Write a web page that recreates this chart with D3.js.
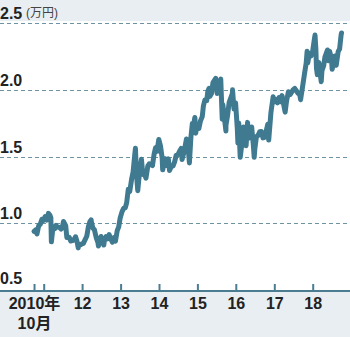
<!DOCTYPE html>
<html>
<head>
<meta charset="utf-8">
<script src="https://cdn.jsdelivr.net/npm/d3@7"></script>
<style>
  html, body { margin: 0; padding: 0; background: #ffffff; }
  svg { display: block; }
  text { font-family: "Liberation Sans Narrow", "Liberation Sans", Arial, "Noto Sans CJK JP", sans-serif; }
</style>
</head>
<body>
<svg id="chart" width="350" height="337"></svg>
<script>
// Nikkei average, 万円 (10,000 yen), Oct 2010 – Oct 2018
const dates = [
  "2010-10-01","2010-10-15","2010-10-29","2010-11-15","2010-11-30","2010-12-15","2010-12-30",
  "2011-01-14","2011-01-31","2011-02-15","2011-02-28","2011-03-10","2011-03-15","2011-03-31",
  "2011-04-15","2011-04-28","2011-05-13","2011-05-31","2011-06-15","2011-06-30","2011-07-08",
  "2011-07-29","2011-08-09","2011-08-31","2011-09-15","2011-09-30","2011-10-14","2011-10-31",
  "2011-11-15","2011-11-25","2011-11-30","2011-12-15","2011-12-30",
  "2012-01-13","2012-01-31","2012-02-15","2012-02-29","2012-03-15","2012-03-27","2012-03-30",
  "2012-04-13","2012-04-27","2012-05-15","2012-05-31","2012-06-04","2012-06-29","2012-07-13",
  "2012-07-25","2012-07-31","2012-08-15","2012-08-31","2012-09-14","2012-09-28","2012-10-15",
  "2012-10-31","2012-11-13","2012-11-30","2012-12-14","2012-12-28",
  "2013-01-15","2013-01-31","2013-02-15","2013-02-28","2013-03-15","2013-03-29","2013-04-15",
  "2013-04-30","2013-05-15","2013-05-22","2013-05-31","2013-06-13","2013-06-28","2013-07-18",
  "2013-07-31","2013-08-15","2013-08-30","2013-09-17","2013-09-30","2013-10-15","2013-10-31",
  "2013-11-15","2013-11-29","2013-12-13","2013-12-30",
  "2014-01-15","2014-01-31","2014-02-05","2014-02-28","2014-03-14","2014-03-31","2014-04-11",
  "2014-04-30","2014-05-15","2014-05-30","2014-06-13","2014-06-30","2014-07-15","2014-07-31",
  "2014-08-08","2014-08-29","2014-09-19","2014-09-30","2014-10-17","2014-10-31","2014-11-14",
  "2014-11-28","2014-12-08","2014-12-16","2014-12-30",
  "2015-01-15","2015-01-30","2015-02-16","2015-02-27","2015-03-13","2015-03-31","2015-04-10",
  "2015-04-22","2015-04-30","2015-05-15","2015-05-29","2015-06-24","2015-06-30","2015-07-08",
  "2015-07-31","2015-08-11","2015-08-25","2015-08-31","2015-09-29","2015-09-30","2015-10-15",
  "2015-10-30","2015-11-30","2015-12-01","2015-12-15","2015-12-30",
  "2016-01-15","2016-01-21","2016-01-29","2016-02-12","2016-02-29","2016-03-14","2016-03-31",
  "2016-04-08","2016-04-22","2016-04-28","2016-05-13","2016-05-31","2016-06-15","2016-06-24",
  "2016-06-30","2016-07-15","2016-07-29","2016-08-15","2016-08-31","2016-09-15","2016-09-30",
  "2016-10-14","2016-10-31","2016-11-09","2016-11-30","2016-12-21","2016-12-30",
  "2017-01-13","2017-01-31","2017-02-15","2017-02-28","2017-03-15","2017-03-31","2017-04-14",
  "2017-04-28","2017-05-15","2017-05-31","2017-06-15","2017-06-30","2017-07-14","2017-07-31",
  "2017-08-15","2017-08-31","2017-09-08","2017-09-29","2017-10-16","2017-10-31","2017-11-09",
  "2017-11-15","2017-11-30","2017-12-15","2017-12-29",
  "2018-01-15","2018-01-23","2018-01-31","2018-02-06","2018-02-14","2018-02-28","2018-03-23",
  "2018-03-30","2018-04-16","2018-04-27","2018-05-21","2018-05-31","2018-06-12","2018-06-29",
  "2018-07-05","2018-07-31","2018-08-13","2018-08-31","2018-09-14","2018-09-28","2018-10-02"
];
const values = [
  0.940,0.950,0.920,0.983,0.994,1.031,1.023,
  1.050,1.024,1.075,1.062,1.043,0.861,0.976,
  0.959,0.985,0.972,0.969,0.957,0.982,1.014,
  0.983,0.894,0.896,0.867,0.870,0.875,0.899,
  0.860,0.816,0.843,0.838,0.846,
  0.850,0.880,0.905,0.972,1.012,1.026,1.008,
  0.964,0.952,0.890,0.854,0.830,0.901,0.872,
  0.837,0.870,0.900,0.884,0.916,0.887,0.858,
  0.893,0.866,0.945,0.974,1.040,
  1.088,1.114,1.117,1.156,1.256,1.240,1.328,
  1.386,1.510,1.563,1.377,1.245,1.368,1.481,
  1.367,1.375,1.339,1.431,1.446,1.440,1.433,
  1.517,1.566,1.540,1.629,
  1.581,1.491,1.401,1.484,1.433,1.483,1.396,
  1.430,1.430,1.463,1.510,1.516,1.540,1.562,
  1.478,1.542,1.632,1.617,1.453,1.641,1.749,
  1.746,1.794,1.676,1.745,
  1.711,1.767,1.800,1.880,1.925,1.921,1.991,
  2.013,1.952,1.973,2.056,2.087,2.024,1.974,
  2.059,2.081,1.781,1.889,1.693,1.739,1.810,
  1.908,1.975,2.001,1.857,1.903,
  1.715,1.602,1.752,1.495,1.603,1.723,1.676,
  1.582,1.757,1.667,1.641,1.723,1.592,1.495,
  1.558,1.650,1.657,1.687,1.689,1.641,1.645,
  1.686,1.743,1.625,1.831,1.949,1.911,
  1.929,1.904,1.944,1.912,1.958,1.891,1.834,
  1.920,1.987,1.965,1.983,2.003,2.012,1.993,
  1.975,1.965,1.927,2.036,2.126,2.201,2.291,
  2.203,2.273,2.255,2.276,
  2.371,2.412,2.310,2.161,2.115,2.207,2.062,
  2.145,2.184,2.247,2.300,2.220,2.288,2.230,
  2.155,2.255,2.186,2.287,2.309,2.412,2.427
];

// Axis ticks
const yTicks = [0.5, 1.0, 1.5, 2.0, 2.5];
const yTickLabels = ["0.5", "1.0", "1.5", "2.0", "2.5"];
const yUnit = "(万円)";
const xTickDates = ["2010-10-01","2011-01-01","2012-01-01","2013-01-01","2014-01-01",
                    "2015-01-01","2016-01-01","2017-01-01","2018-01-01"];
const xTickLabels = [["2010年", "10月"], [""], ["12"], ["13"], ["14"], ["15"], ["16"], ["17"], ["18"]];

const W = 350, H = 337;
const parse = d3.utcParse("%Y-%m-%d");
const svg = d3.select("#chart");

const x = d3.scaleUtc()
  .domain([parse("2011-01-01"), parse("2018-01-01")])
  .range([43.7, 312.7]);
const y = d3.scaleLinear()
  .domain([0.5, 2.5])
  .range([290, 23.3]);

const axisY = 291;

// background bands
svg.append("rect").attr("x", 0).attr("y", 0).attr("width", W).attr("height", 21)
  .attr("fill", "#e8eef2");
svg.append("rect").attr("x", 0).attr("y", axisY).attr("width", W).attr("height", H - axisY)
  .attr("fill", "#e8eef2");

// dashed gridlines
svg.append("g").selectAll("line")
  .data(yTicks.filter(v => v > 0.5))
  .join("line")
  .attr("x1", 0).attr("x2", W)
  .attr("y1", d => Math.round(y(d)) + 0.5)
  .attr("y2", d => Math.round(y(d)) + 0.5)
  .attr("stroke", "#6d93a4")
  .attr("stroke-width", 1)
  .attr("stroke-dasharray", "4,3");

// y labels
svg.append("g").selectAll("text")
  .data(yTicks)
  .join("text")
  .attr("x", 0)
  .attr("y", d => d === 0.5 ? y(d) - 6 : y(d) - 4)
  .attr("font-size", 16)
  .attr("font-weight", "bold")
  .attr("fill", "#222")
  .text((d, i) => yTickLabels[i]);

svg.append("text")
  .attr("x", 26).attr("y", 17)
  .attr("font-size", 12)
  .attr("fill", "#444")
  .text(yUnit);

// price line
const line = d3.line()
  .x((d, i) => x(parse(dates[i])))
  .y(d => y(d))
  .curve(d3.curveLinear);

svg.append("path")
  .datum(values)
  .attr("d", line)
  .attr("fill", "none")
  .attr("stroke", "#3f7a91")
  .attr("stroke-width", 5)
  .attr("stroke-linejoin", "round")
  .attr("stroke-linecap", "round");

// x axis
const xAxis = d3.axisBottom(x)
  .tickValues(xTickDates.map(parse))
  .tickSizeInner(-7)
  .tickSizeOuter(0)
  .tickPadding(8)
  .tickFormat("");

const gx = svg.append("g")
  .attr("transform", `translate(0,${axisY})`)
  .call(xAxis);

gx.select(".domain").remove();
gx.selectAll(".tick line")
  .attr("stroke", "#4a7d92")
  .attr("stroke-width", 2);

svg.append("line")
  .attr("x1", 0).attr("x2", W)
  .attr("y1", axisY).attr("y2", axisY)
  .attr("stroke", "#4a7d92")
  .attr("stroke-width", 2);

gx.selectAll(".tick text").remove();
gx.selectAll(".tick").each(function(d, i) {
  const t = d3.select(this).append("text")
    .attr("text-anchor", "middle")
    .attr("font-size", 16)
    .attr("font-weight", "bold")
    .attr("fill", "#222");
  xTickLabels[i].forEach((s, k) => {
    t.append("tspan").attr("x", 0).attr("y", 18 + k * 20).text(s);
  });
});
</script>
</body>
</html>
